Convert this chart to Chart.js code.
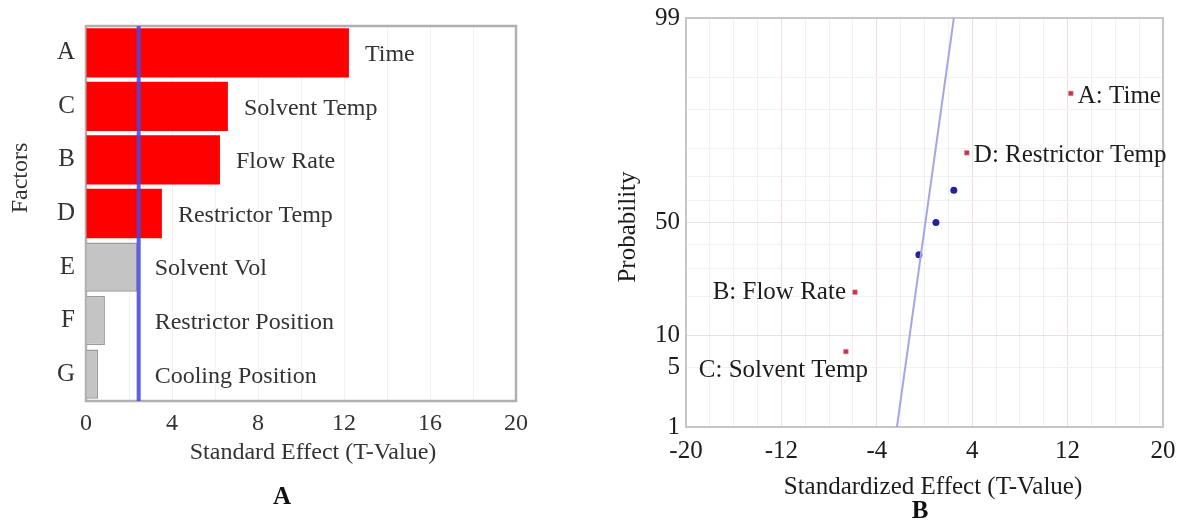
<!DOCTYPE html>
<html>
<head>
<meta charset="utf-8">
<script src="https://cdn.jsdelivr.net/npm/chart.js@4.4.1/dist/chart.umd.min.js"></script>
<style>
  html, body { margin: 0; padding: 0; background: #fff; }
  #wrap { position: relative; width: 1179px; height: 522px; }
  .panel { position: absolute; top: 0; height: 522px; }
</style>
</head>
<body>
<div id="wrap">
  <div class="panel" style="left:0;width:600px"><canvas id="pareto"></canvas></div>
  <div class="panel" style="left:600px;width:579px"><canvas id="normal"></canvas></div>
</div>
<script>
// ---- Pareto chart of the standardized effects (largest first) ----
const paretoFactors = ['A', 'C', 'B', 'D', 'E', 'F', 'G'];
const paretoNames = ['Time', 'Solvent Temp', 'Flow Rate', 'Restrictor Temp', 'Solvent Vol', 'Restrictor Position', 'Cooling Position'];
const paretoValues = [12.23, 6.60, 6.23, 3.53, 2.37, 0.88, 0.56];
const criticalT = 2.45;
const paretoTicks = [0, 4, 8, 12, 16, 20];

// ---- Normal probability plot of the same effects ----
const effectFactors = ['A', 'D', 'E', 'F', 'G', 'B', 'C'];
const effectNames = ['Time', 'Restrictor Temp', 'Solvent Vol', 'Restrictor Position', 'Cooling Position', 'Flow Rate', 'Solvent Temp'];
const effectValues = [12.27, 3.55, 2.46, 0.96, -0.47, -5.83, -6.59];
const effectProb = [92.9, 78.6, 64.3, 50.0, 35.7, 21.4, 7.1];
const fitLineEffect = [-2.31, 2.46];
const fitLineProb = [1, 99];
const effectTicks = [-20, -12, -4, 4, 12, 20];
const probLabels = [1, 5, 10, 50, 99];
const probGrid = [1, 5, 10, 20, 30, 40, 50, 60, 70, 80, 90, 95, 99];

const SERIF = "'Liberation Serif', 'Times New Roman', serif";

// Inverse of the standard normal CDF (Acklam's rational approximation)
function probit(p) {
  const a = [-3.969683028665376e+01, 2.209460984245205e+02, -2.759285104469687e+02, 1.383577518672690e+02, -3.066479806614716e+01, 2.506628277459239e+00];
  const b = [-5.447609879822406e+01, 1.615858368580409e+02, -1.556989798598866e+02, 6.680131188771972e+01, -1.328068155288572e+01];
  const c = [-7.784894002430293e-03, -3.223964580411365e-01, -2.400758277161838e+00, -2.549732810471876e+00, 4.374664141464968e+00, 2.938163982698783e+00];
  const d = [7.784695709041462e-03, 3.224671290700398e-01, 2.445134137142996e+00, 3.754408661907416e+00];
  const pl = 0.02425, ph = 1 - pl;
  let q, r;
  if (p < pl) {
    q = Math.sqrt(-2 * Math.log(p));
    return (((((c[0]*q+c[1])*q+c[2])*q+c[3])*q+c[4])*q+c[5]) / ((((d[0]*q+d[1])*q+d[2])*q+d[3])*q+1);
  }
  if (p <= ph) {
    q = p - 0.5; r = q * q;
    return (((((a[0]*r+a[1])*r+a[2])*r+a[3])*r+a[4])*r+a[5])*q / (((((b[0]*r+b[1])*r+b[2])*r+b[3])*r+b[4])*r+1);
  }
  q = Math.sqrt(-2 * Math.log(1 - p));
  return -(((((c[0]*q+c[1])*q+c[2])*q+c[3])*q+c[4])*q+c[5]) / ((((d[0]*q+d[1])*q+d[2])*q+d[3])*q+1);
}
const zOf = pct => probit(pct / 100);

// factors whose effect crosses the critical t value
const significant = new Set(paretoFactors.filter((f, i) => paretoValues[i] > criticalT));

// where each significant point's name goes on the probability plot
const labelPlacement = { A: 'right', D: 'right', B: 'left', C: 'below' };

// box around the plotting area
function framePlugin(color, width) {
  return {
    id: 'frame',
    beforeDatasetsDraw(chart) {
      const { ctx, chartArea: a } = chart;
      ctx.save();
      ctx.strokeStyle = color;
      ctx.lineWidth = width;
      ctx.strokeRect(a.left, a.top, a.right - a.left, a.bottom - a.top);
      ctx.restore();
    }
  };
}

function drawText(ctx, text, x, y, font, color, align, rotate) {
  ctx.save();
  ctx.font = font;
  ctx.fillStyle = color;
  ctx.textAlign = align || 'center';
  ctx.textBaseline = 'middle';
  ctx.translate(x, y);
  if (rotate) ctx.rotate(rotate);
  ctx.fillText(text, 0, 0);
  ctx.restore();
}

Chart.defaults.animation = false;
Chart.defaults.font.family = SERIF;

// ================= Pareto chart =================
const LEFT_TEXT = '#333333';
new Chart(document.getElementById('pareto'), {
  type: 'bar',
  data: {
    labels: paretoFactors,
    datasets: [{
      data: paretoValues,
      backgroundColor: ctx => ctx.raw > criticalT ? '#ff0000' : '#c4c4c4',
      borderColor: ctx => ctx.raw > criticalT ? '#ff0000' : '#9a9a9a',
      borderWidth: ctx => ctx.raw > criticalT ? 0 : 1.5,
      barPercentage: 0.92,
      categoryPercentage: 1.0
    }]
  },
  options: {
    indexAxis: 'y',
    responsive: true,
    maintainAspectRatio: false,
    layout: { padding: { top: 23, right: 84, bottom: 0, left: 0 } },
    plugins: { legend: { display: false }, tooltip: { enabled: false } },
    scales: {
      x: {
        type: 'linear', min: 0, max: 20,
        afterFit: s => { s.height = 121; },
        border: { display: false },
        grid: { color: '#f2f2f2', lineWidth: 1, drawTicks: false },
        ticks: {
          stepSize: 2, autoSkip: false, maxRotation: 0, padding: 8,
          color: LEFT_TEXT, font: { size: 24, family: SERIF },
          callback: v => paretoTicks.includes(v) ? String(v) : ''
        }
      },
      y: {
        afterFit: s => { s.width = 86; },
        border: { display: false },
        grid: { display: false, drawTicks: false },
        ticks: { padding: 11, color: LEFT_TEXT, font: { size: 25, family: SERIF } }
      }
    }
  },
  plugins: [
    framePlugin('#b0b0b0', 2.5),
    {
      id: 'paretoExtras',
      afterDatasetsDraw(chart) {
        const { ctx, chartArea: a, scales } = chart;
        const refX = scales.x.getPixelForValue(criticalT);
        // critical t reference line
        ctx.save();
        ctx.strokeStyle = 'rgba(72, 72, 228, 0.88)';
        ctx.lineWidth = 4;
        ctx.beginPath();
        ctx.moveTo(refX, a.top);
        ctx.lineTo(refX, a.bottom);
        ctx.stroke();
        ctx.restore();
        // factor names beside the bars
        const meta = chart.getDatasetMeta(0);
        meta.data.forEach((bar, i) => {
          const x = Math.max(bar.x, refX) + 16;
          drawText(ctx, paretoNames[i], x, bar.y + 2, `24px ${SERIF}`, LEFT_TEXT, 'left');
        });
      },
      afterDraw(chart) {
        const { ctx } = chart;
        drawText(ctx, 'Factors', 21, 178, `24px ${SERIF}`, LEFT_TEXT, 'center', -Math.PI / 2);
        drawText(ctx, 'Standard Effect (T-Value)', 313, 453, `24px ${SERIF}`, LEFT_TEXT, 'center');
        drawText(ctx, 'A', 282, 498, `bold 25px ${SERIF}`, '#111', 'center');
      }
    }
  ]
});

// ================= Normal probability plot =================
const RIGHT_TEXT = '#1c1c1c';
const points = effectFactors.map((f, i) => ({ x: effectValues[i], y: zOf(effectProb[i]), f, name: effectNames[i] }));
const sigPoints = points.filter(p => significant.has(p.f));
const otherPoints = points.filter(p => !significant.has(p.f));

new Chart(document.getElementById('normal'), {
  type: 'scatter',
  data: {
    datasets: [
      {
        data: fitLineEffect.map((x, i) => ({ x, y: zOf(fitLineProb[i]) })),
        showLine: true,
        borderColor: '#a6a6e6',
        borderWidth: 2,
        pointRadius: 0
      },
      {
        data: otherPoints,
        pointStyle: 'circle',
        pointRadius: 3.5,
        backgroundColor: '#22229a',
        borderWidth: 0
      },
      {
        data: sigPoints,
        pointStyle: 'rect',
        pointRadius: 3.2,
        backgroundColor: '#c2344a',
        borderColor: 'rgba(230,120,140,0.6)',
        borderWidth: 1
      }
    ]
  },
  options: {
    responsive: true,
    maintainAspectRatio: false,
    layout: { padding: { top: 18, right: 16, bottom: 0, left: 0 } },
    plugins: { legend: { display: false }, tooltip: { enabled: false } },
    scales: {
      x: {
        type: 'linear', min: -20, max: 20,
        afterFit: s => { s.height = 95; s.paddingLeft = 0; s.paddingRight = 0; },
        border: { display: false },
        grid: {
          drawTicks: false,
          color: ctx => effectTicks.includes(ctx.tick.value) ? '#f3dcdc' : '#f1f1f1'
        },
        ticks: {
          stepSize: 2, autoSkip: false, maxRotation: 0, padding: 9,
          color: RIGHT_TEXT, font: { size: 25, family: SERIF },
          callback: v => effectTicks.includes(v) ? String(v) : ''
        }
      },
      y: {
        type: 'linear', min: zOf(1), max: zOf(99),
        afterFit: s => { s.width = 86; s.paddingTop = 0; s.paddingBottom = 0; },
        afterBuildTicks: s => { s.ticks = probGrid.map(p => ({ value: zOf(p) })); },
        border: { display: false },
        grid: {
          drawTicks: false,
          color: ctx => (probGrid[ctx.index] === 10 || probGrid[ctx.index] === 50) ? '#f1dede' : '#f2f2f2'
        },
        ticks: {
          autoSkip: false, padding: 6,
          color: RIGHT_TEXT, font: { size: 25, family: SERIF },
          callback: (v, i) => probLabels.includes(probGrid[i]) ? String(probGrid[i]) : ''
        }
      }
    }
  },
  plugins: [
    framePlugin('#c6c6c6', 2),
    {
      id: 'normalExtras',
      afterDatasetsDraw(chart) {
        const { ctx } = chart;
        const meta = chart.getDatasetMeta(2);
        const font = `25px ${SERIF}`;
        meta.data.forEach((pt, i) => {
          const p = sigPoints[i];
          const text = `${p.f}: ${p.name}`;
          const where = labelPlacement[p.f] || 'right';
          if (where === 'right') drawText(ctx, text, pt.x + 7, pt.y + 3, font, RIGHT_TEXT, 'left');
          else if (where === 'left') drawText(ctx, text, pt.x - 9, pt.y, font, RIGHT_TEXT, 'right');
          else drawText(ctx, text, pt.x + 22, pt.y + 19, font, RIGHT_TEXT, 'right');
        });
      },
      afterDraw(chart) {
        const { ctx } = chart;
        drawText(ctx, 'Probability', 28, 227, `25px ${SERIF}`, RIGHT_TEXT, 'center', -Math.PI / 2);
        drawText(ctx, 'Standardized Effect (T-Value)', 333, 487, `25px ${SERIF}`, RIGHT_TEXT, 'center');
        drawText(ctx, 'B', 320, 512, `bold 25px ${SERIF}`, '#111', 'center');
      }
    }
  ]
});
</script>
</body>
</html>
